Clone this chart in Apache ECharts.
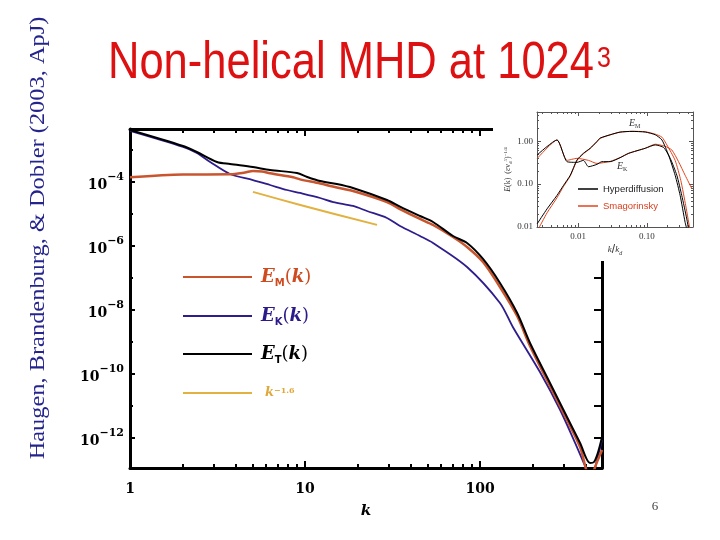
<!DOCTYPE html>
<html><head><meta charset="utf-8">
<script src="https://cdn.jsdelivr.net/npm/echarts@6/dist/echarts.min.js"></script>
<style>html,body{margin:0;padding:0;background:#fff}#c{width:720px;height:540px}</style>
</head><body><div id="c"></div>
<script>
// ---------- main plot data (k, spectral energy) ----------
const kT = [1, 2.01, 2.41, 3.14, 3.73, 5.04, 6.31, 9.00, 10.3, 12.2, 15.2, 18.8, 29.4, 34.9, 45.4, 53.9, 70.1, 84.3, 104, 130, 163, 193, 251, 314, 373, 425, 448, 473, 498];
const eT = [4.22e-3, 1.33e-3, 8.66e-4, 4.22e-4, 3.65e-4, 2.94e-4, 2.37e-4, 1.91e-4, 1.43e-4, 1.07e-4, 8.66e-5, 6.49e-5, 2.74e-5, 1.71e-5, 8.66e-6, 5.62e-6, 2.05e-6, 1.24e-6, 3.93e-7, 6.98e-8, 8.06e-9, 9.30e-10, 5.23e-11, 4.53e-12, 6.98e-13, 1.66e-13, 1.78e-13, 3.65e-13, 1.07e-12];
const kK = [1, 2.01, 2.41, 2.87, 3.73, 5.04, 6.31, 7.89, 9.36, 12.2, 14.5, 18.8, 22.6, 29.4, 34.9, 45.4, 53.9, 84.3, 130, 154, 220, 287, 358, 409, 437, 466, 498];
const eK = [3.93e-3, 1.24e-3, 8.06e-4, 4.22e-4, 1.78e-4, 1.15e-4, 8.06e-5, 5.62e-5, 4.53e-5, 3.16e-5, 2.37e-5, 1.78e-5, 1.24e-5, 7.50e-6, 4.22e-6, 2.05e-6, 1.24e-6, 2.21e-7, 1.66e-8, 2.94e-9, 1.15e-10, 7.50e-12, 5.23e-13, 1.0e-13, 6.49e-14, 2.05e-13, 8.66e-13];
const kM = [1, 2.01, 3.73, 4.54, 5.04, 5.68, 6.31, 8.54, 9.36, 12.2, 15.2, 18.8, 29.4, 34.9, 45.4, 53.9, 70.1, 84.3, 104, 130, 163, 193, 251, 314, 373, 425, 466, 498];
const eM = [1.40e-4, 1.71e-4, 1.74e-4, 1.98e-4, 2.21e-4, 2.13e-4, 1.87e-4, 1.40e-4, 1.21e-4, 8.98e-5, 6.73e-5, 5.23e-5, 2.37e-5, 1.43e-5, 6.98e-6, 4.53e-6, 1.91e-6, 9.30e-7, 3.16e-7, 5.23e-8, 6.49e-9, 7.50e-10, 4.22e-11, 3.65e-12, 5.23e-13, 5.62e-14, 1.78e-13, 4.22e-13];
const kS = [5.04, 9.4, 25.8];
const eS = [4.90e-5, 1.91e-5, 4.57e-6];
// main axes ticks
const xMajor = [1, 10, 100];
const xMinor = [2,3,4,5,6,7,8,9,20,30,40,50,60,70,80,90,200,300,400];
const yLabelExp = [-12, -10, -8, -6, -4];
const yOddExp = [-11, -9, -7, -5, -3];
const yAllExp = [-12, -11, -10, -9, -8, -7, -6, -5, -4, -3];

// ---------- inset data (k/kd, E) ----------
const hypMx = [0.00252, 0.00352, 0.00491, 0.00612, 0.00766, 0.00958, 0.0119, 0.0149, 0.0187, 0.0208, 0.0291, 0.0406, 0.0607, 0.0945, 0.132, 0.165, 0.206, 0.257, 0.304, 0.359, 0.380];
const hypMy = [0.0118, 0.0265, 0.0545, 0.0938, 0.161, 0.363, 0.522, 0.684, 0.985, 1.18, 1.41, 1.63, 1.69, 1.63, 1.41, 1.07, 0.476, 0.161, 0.0545, 0.0129, 0.0090];
const smaMx = [0.00263, 0.00352, 0.00491, 0.00612, 0.00766, 0.00958, 0.0119, 0.0149, 0.0187, 0.0208, 0.0291, 0.0406, 0.0607, 0.0945, 0.132, 0.165, 0.195, 0.257, 0.311, 0.367, 0.42];
const smaMy = [0.009, 0.0214, 0.0481, 0.0885, 0.155, 0.35, 0.51, 0.67, 0.96, 1.16, 1.40, 1.62, 1.70, 1.66, 1.46, 1.24, 0.818, 0.357, 0.121, 0.0312, 0.009];
const hypKx = [0.00252, 0.00491, 0.00686, 0.00958, 0.0119, 0.0141, 0.0187, 0.0221, 0.0291, 0.0406, 0.0543, 0.0945, 0.132, 0.175, 0.218, 0.272, 0.321, 0.380, 0.402];
const hypKy = [0.476, 1.07, 0.333, 0.321, 0.357, 0.254, 0.288, 0.333, 0.333, 0.413, 0.522, 0.684, 0.818, 0.711, 0.398, 0.161, 0.0545, 0.0154, 0.009];
const smaKx = [0.00254, 0.00491, 0.00686, 0.00958, 0.0141, 0.0187, 0.0291, 0.0406, 0.0543, 0.0945, 0.132, 0.182, 0.230, 0.288, 0.359, 0.449];
const smaKy = [0.398, 1.07, 0.357, 0.398, 0.357, 0.303, 0.338, 0.413, 0.522, 0.684, 0.85, 0.763, 0.624, 0.333, 0.161, 0.0784];
const insXLabels = [0.01, 0.1];
const insYLabels = [0.01, 0.1, 1];
const insXMinor = [0.003,0.004,0.005,0.006,0.007,0.008,0.009,0.02,0.03,0.04,0.05,0.06,0.07,0.08,0.09,0.2,0.3,0.4];
const insYMinor = [0.02,0.03,0.04,0.05,0.06,0.07,0.08,0.09,0.2,0.3,0.4,0.5,0.6,0.7,0.8,0.9,2,3,4];

// ---------- build ----------
const L = Math.log10;
const pts = (xs, ys) => xs.map((x, i) => [L(x), L(ys[i])]);
const chart = echarts.init(document.getElementById('c'), null, {renderer: 'canvas'});

const cM = '#c9552f', cK = '#2e1d8c', cT = '#000000', cS = '#e2b13f';
const serifB = 'DejaVu Serif';
const MAIN = {left: 130, top: 129, width: 472, height: 339, containLabel: false, outerBoundsMode: 'none'};
const INS = {left: 537, top: 112, width: 156, height: 115, containLabel: false, outerBoundsMode: 'none'};
const blk = {color: '#000', width: 3};
const insLine = {color: '#555', width: 1};
const noSplit = {show: false};

function tickAxis(base, vals, len, width, color, showLine, lineStyle) {
  return Object.assign({
    type: 'value', splitLine: noSplit,
    axisLine: {show: showLine, onZero: false, lineStyle: lineStyle || {color: color}},
    axisTick: {show: true, inside: true, length: len, lineStyle: {color: color, width: width}, customValues: vals},
    axisLabel: {show: false}
  }, base);
}

const xMain = {min: 0, max: 2.697};
const yMain = {min: -12.9375, max: -2.344};
const xIns = {min: -2.6, max: -0.33};
const yIns = {min: -2.0, max: 0.68};

const xAxes = [
  // 0 main bottom (labels)
  Object.assign(tickAxis(Object.assign({gridIndex: 0, position: 'bottom'}, xMain), xMajor.map(L), 7, 2, '#000', true, blk), {
    axisLabel: {show: true, customValues: xMajor.map(L), margin: 14,
      formatter: v => String(Math.round(Math.pow(10, v))),
      fontFamily: serifB, fontWeight: 'bold', fontSize: 14, color: '#000'},
    name: 'k', nameLocation: 'middle', nameGap: 36,
    nameTextStyle: {fontFamily: serifB, fontStyle: 'italic', fontWeight: 'bold', fontSize: 15, color: '#000'}
  }),
  // 1 main top
  tickAxis(Object.assign({gridIndex: 0, position: 'top'}, xMain), [1, 2], 7, 2, '#000', true, blk),
  // 2,3 main minor
  tickAxis(Object.assign({gridIndex: 1, position: 'bottom'}, xMain), xMinor.map(L), 4, 2, '#000', false),
  tickAxis(Object.assign({gridIndex: 1, position: 'top'}, xMain), xMinor.map(L), 4, 2, '#000', false),
  // 4 inset bottom
  Object.assign(tickAxis(Object.assign({gridIndex: 2, position: 'bottom', z: 10}, xIns), insXLabels.map(L), 4, 1, '#555', true, insLine), {
    axisLabel: {show: true, customValues: insXLabels.map(L), margin: 5,
      formatter: v => Math.pow(10, v).toFixed(2), fontFamily: 'Liberation Serif', fontSize: 9, color: '#333'},
    name: '{i|k}/{i|k}{s|d}', nameLocation: 'middle', nameGap: 17,
    nameTextStyle: {color: '#333', rich: {
      i: {fontFamily: 'Liberation Serif', fontStyle: 'italic', fontSize: 9, color: '#333'},
      s: {fontFamily: 'Liberation Serif', fontStyle: 'italic', fontSize: 6, verticalAlign: 'bottom', height: 6, lineHeight: 11, color: '#333'}}}
  }),
  // 5 inset top
  tickAxis(Object.assign({gridIndex: 2, position: 'top', z: 10}, xIns), insXLabels.map(L), 4, 1, '#555', true, insLine),
  // 6,7 inset minor
  tickAxis(Object.assign({gridIndex: 3, position: 'bottom', z: 10}, xIns), insXMinor.map(L), 2, 1, '#555', false),
  tickAxis(Object.assign({gridIndex: 3, position: 'top', z: 10}, xIns), insXMinor.map(L), 2, 1, '#555', false)
];

const yAxes = [
  // 0 main left (labels)
  Object.assign(tickAxis(Object.assign({gridIndex: 0, position: 'left'}, yMain), yLabelExp, 5, 2, '#000', true, blk), {
    axisLabel: {show: true, customValues: yLabelExp, margin: 6,
      formatter: v => '{b|10}{e|\u2212' + Math.abs(Math.round(v)) + '}',
      rich: {
        b: {fontFamily: serifB, fontWeight: 'bold', fontSize: 14, height: 14, lineHeight: 20, verticalAlign: 'bottom', color: '#000'},
        e: {fontFamily: serifB, fontWeight: 'bold', fontSize: 11, height: 11, lineHeight: 20, verticalAlign: 'top', color: '#000'}
      }}
  }),
  // 1 main right
  tickAxis(Object.assign({gridIndex: 0, position: 'right'}, yMain), yAllExp, 8, 2, '#000', true, blk),
  // 2 main left minor
  tickAxis(Object.assign({gridIndex: 1, position: 'left'}, yMain), yOddExp, 3, 2, '#000', false),
  // 3 inset left
  Object.assign(tickAxis(Object.assign({gridIndex: 2, position: 'left', z: 10}, yIns), [-1, 0], 4, 1, '#555', true, insLine), {
    axisLabel: {show: true, customValues: insYLabels.map(L), margin: 4,
      formatter: v => Math.pow(10, v).toFixed(2), fontFamily: 'Liberation Serif', fontSize: 9, color: '#333'},
    name: '{i|E}(k)  (\u03B5\u03BD{s|d}{t|5}){t|\u22121/4}', nameLocation: 'middle', nameGap: 24, nameRotate: 90,
    nameTextStyle: {color: '#333', fontFamily: 'Liberation Serif', fontSize: 8, rich: {
      i: {fontFamily: 'Liberation Serif', fontStyle: 'italic', fontSize: 8, color: '#333'},
      s: {fontFamily: 'Liberation Serif', fontSize: 5, verticalAlign: 'bottom', height: 5, lineHeight: 10, color: '#333'},
      t: {fontFamily: 'Liberation Serif', fontSize: 5, verticalAlign: 'top', height: 5, lineHeight: 10, color: '#333'}}}
  }),
  // 4 inset right
  tickAxis(Object.assign({gridIndex: 2, position: 'right', z: 10}, yIns), [-1, 0], 4, 1, '#555', true, insLine),
  // 5,6 inset minor
  tickAxis(Object.assign({gridIndex: 3, position: 'left', z: 10}, yIns), insYMinor.map(L), 2, 1, '#555', false),
  tickAxis(Object.assign({gridIndex: 3, position: 'right', z: 10}, yIns), insYMinor.map(L), 2, 1, '#555', false)
];

function lineSeries(name, data, color, width, xi, yi, z, sm) {
  return {type: 'line', name: name, data: data, xAxisIndex: xi, yAxisIndex: yi, z: z || 2,
    showSymbol: false, symbol: 'none', smooth: sm, clip: true,
    lineStyle: {color: color, width: width, join: 'round'}, itemStyle: {color: color}, emphasis: {disabled: true}};
}

const serifBI = {fontFamily: serifB, fontStyle: 'italic', fontWeight: 'bold', fontSize: 18, height: 22, lineHeight: 22};
function legendRich(color) {
  return {
    e: Object.assign({}, serifBI, {color: color, padding: [0, 0, 0, 4]}),
    k: Object.assign({}, serifBI, {color: color}),
    p: {fontFamily: serifB, fontSize: 18, height: 22, lineHeight: 22, color: color},
    s: {fontFamily: 'DejaVu Sans', fontWeight: 'bold', fontSize: 10, height: 10, lineHeight: 22, verticalAlign: 'bottom', color: color}
  };
}
function mainLegend(name, top, text, rich) {
  return {data: [name], left: 183, top: top, orient: 'vertical', icon: 'rect', itemWidth: 69, itemHeight: 2,
    padding: 0, selectedMode: false, formatter: () => text, textStyle: {rich: rich}};
}

const option = {
  animation: false,
  backgroundColor: '#ffffff',
  grid: [MAIN, Object.assign({}, MAIN), INS, Object.assign({}, INS)],
  xAxis: xAxes,
  yAxis: yAxes,
  legend: [
    mainLegend('EM', 266, '{e|E}{s|M}{p|(}{k|k}{p|)}', legendRich('#cf4a1f')),
    mainLegend('EK', 305, '{e|E}{s|K}{p|(}{k|k}{p|)}', legendRich('#2a1a8a')),
    mainLegend('ET', 343, '{e|E}{s|T}{p|(}{k|k}{p|)}', legendRich('#000000')),
    mainLegend('slope', 382, '{k|k}{u|\u22121.6}', {
      k: {fontFamily: serifB, fontStyle: 'italic', fontWeight: 'bold', fontSize: 13, height: 14, lineHeight: 22, color: '#e0a83a', padding: [0, 0, 0, 8]},
      u: {fontFamily: serifB, fontWeight: 'bold', fontSize: 8, height: 8, lineHeight: 22, verticalAlign: 'top', color: '#e0a83a', padding: [5, 0, 0, 0]}
    }),
    {data: ['Hyperdiffusion'], left: 578, top: 184, icon: 'rect', itemWidth: 20, itemHeight: 1.5, padding: 0, z: 10,
      selectedMode: false, textStyle: {fontFamily: 'Liberation Sans', fontSize: 9.5, color: '#222'}},
    {data: ['Smagorinsky'], left: 578, top: 201, icon: 'rect', itemWidth: 20, itemHeight: 1.5, padding: 0, z: 10,
      selectedMode: false, textStyle: {fontFamily: 'Liberation Sans', fontSize: 9.5, color: '#d9401f'}}
  ],
  series: [
    lineSeries('slope', pts(kS, eS), cS, 2, 0, 0, 2, 0.3),
    lineSeries('EK', pts(kK, eK), cK, 1.8, 0, 0, 2, 0.3),
    lineSeries('EM', pts(kM, eM), cM, 2.5, 0, 0, 2, 0.3),
    lineSeries('ET', pts(kT, eT), cT, 2, 0, 0, 2, 0.3),
    lineSeries('Smagorinsky', pts(smaMx, smaMy), '#e0451f', 1, 4, 3, 10, 0.2),
    lineSeries('Smagorinsky', pts(smaKx, smaKy), '#e0451f', 1, 4, 3, 10, 0.2),
    lineSeries('Hyperdiffusion', pts(hypMx, hypMy), '#000', 1, 4, 3, 11, 0.2),
    lineSeries('Hyperdiffusion', pts(hypKx, hypKy), '#000', 1, 4, 3, 11, 0.2)
  ],
  graphic: {elements: [
    {type: 'rect', z: 5, shape: {x: 493, y: 100, width: 227, height: 161}, style: {fill: '#ffffff'}},
    {type: 'text', z: 10, x: 629, y: 123, style: {text: '{i|E}{s|M}', fill: '#333', rich: {
      i: {fontFamily: 'Liberation Serif', fontStyle: 'italic', fontSize: 10, fill: '#333'},
      s: {fontFamily: 'Liberation Serif', fontSize: 6, verticalAlign: 'bottom', height: 6, lineHeight: 12, fill: '#333'}}, verticalAlign: 'middle'}},
    {type: 'text', z: 10, x: 617, y: 166, style: {text: '{i|E}{s|K}', fill: '#333', rich: {
      i: {fontFamily: 'Liberation Serif', fontStyle: 'italic', fontSize: 10, fill: '#333'},
      s: {fontFamily: 'Liberation Serif', fontSize: 6, verticalAlign: 'bottom', height: 6, lineHeight: 12, fill: '#333'}}, verticalAlign: 'middle'}},
    {type: 'text', x: 108, y: 64, scaleY: 1.2, style: {text: 'Non-helical MHD at 1024', font: '43.5px "Liberation Sans"',
      fill: '#dd1111', align: 'left', verticalAlign: 'middle', shadowColor: 'rgba(0,0,0,0.3)', shadowOffsetX: 2, shadowOffsetY: 2, shadowBlur: 1}},
    {type: 'text', x: 597, y: 59, scaleY: 1.2, style: {text: '3', font: '25px "Liberation Sans"',
      fill: '#dd1111', align: 'left', verticalAlign: 'middle', shadowColor: 'rgba(0,0,0,0.3)', shadowOffsetX: 2, shadowOffsetY: 2, shadowBlur: 1}},
    {type: 'text', x: 39, y: 238, rotation: Math.PI / 2, scaleX: 1.22, style: {text: 'Haugen, Brandenburg, & Dobler (2003, ApJ)',
      font: '20px "Liberation Serif"', fill: '#24248c', align: 'center', verticalAlign: 'middle'}},
    {type: 'text', x: 655, y: 507, style: {text: '6', font: '13px "Liberation Serif"', fill: '#444', align: 'center', verticalAlign: 'middle'}}
  ]}
};
chart.setOption(option);
</script>
</body></html>
